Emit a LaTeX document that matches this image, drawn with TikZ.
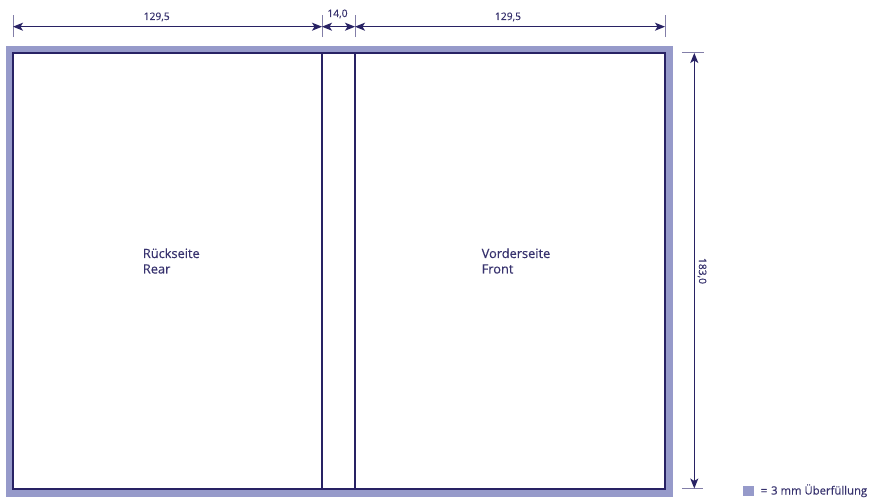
\documentclass[tikz,border=0pt]{standalone}
\usepackage{fontspec}
\setmainfont{Open Sans}[FakeBold=0.35]
\usetikzlibrary{arrows.meta}
\definecolor{bleed}{RGB}{150,154,202}
\definecolor{ink}{RGB}{40,34,100}
\definecolor{txt}{RGB}{55,50,110}
\definecolor{tick}{RGB}{130,126,168}
\tikzset{
  trim/.style={draw=ink,line width=1.3bp},
  spine/.style={draw=ink,line width=1.5bp},
  dimline/.style={draw=ink,line width=1.1bp,{Stealth[length=10bp,width=8bp,inset=2.5bp]}-{Stealth[length=10bp,width=8bp,inset=2.5bp]}},
  ticks/.style={draw=tick,line width=1bp},
  lbl/.style={text=txt,font=\fontsize{10.3bp}{12bp}\selectfont,inner sep=0pt},
  pagelbl/.style={text=txt,font=\fontsize{12.8bp}{15bp}\selectfont,inner sep=0pt,anchor=base west},
}
\begin{document}
\begin{tikzpicture}[x=1bp,y=-1bp]
\useasboundingbox (0,0) rectangle (874,498);
% bleed
\fill[bleed] (6,46.5) rectangle (672.5,496.5);
\filldraw[fill=white,trim] (13,53) rectangle (665,489);
% spine
\coordinate (s1t) at (322,53); \coordinate (s1b) at (322,489);
\coordinate (s2t) at (355,53); \coordinate (s2b) at (355,489);
\draw[spine] (s1t) -- (s1b);
\draw[spine] (s2t) -- (s2b);
% top dimension
\coordinate (d0) at (13,26.7); \coordinate (d1) at (322,26.7);
\coordinate (d2) at (355,26.7); \coordinate (d3) at (665,26.7);
\foreach \p in {d0,d1,d2,d3} \draw[ticks] ([yshift=-10.5bp]\p) -- ([yshift=11.5bp]\p);
\draw[dimline] (d0) -- (d1);
\draw[dimline] (d1) -- (d2);
\draw[dimline] (d2) -- (d3);
\node[lbl,anchor=base] (w1) at (156.7,20) {129,5};
\node[lbl,anchor=base] (w2) at (337.5,17) {14,0};
\node[lbl,anchor=base] (w3) at (508,20) {129,5};
% right dimension
\coordinate (v0) at (694.3,53); \coordinate (v1) at (694.3,488.5);
\draw[ticks] ([xshift=-12.5bp]v0) -- ([xshift=10bp]v0);
\draw[ticks] ([xshift=-12.5bp]v1) -- ([xshift=9bp]v1);
\draw[dimline] (v0) -- (v1);
\node[lbl,rotate=-90] (h) at (702,271) {183,0};
% page labels
\node[pagelbl] (rear1) at (142.7,258) {Rückseite};
\node[pagelbl] (rear2) at (142.7,273.5) {Rear};
\node[pagelbl] (front1) at (481.5,258) {Vorderseite};
\node[pagelbl] (front2) at (481.5,273.5) {Front};
% legend
\fill[bleed] (743,486) rectangle (754,496);
\node[lbl,anchor=base west,font=\fontsize{11.3bp}{13bp}\selectfont] (leg) at (760.5,494.5) {=\hspace{4bp}3 mm Überfüllung};
\end{tikzpicture}
\end{document}
